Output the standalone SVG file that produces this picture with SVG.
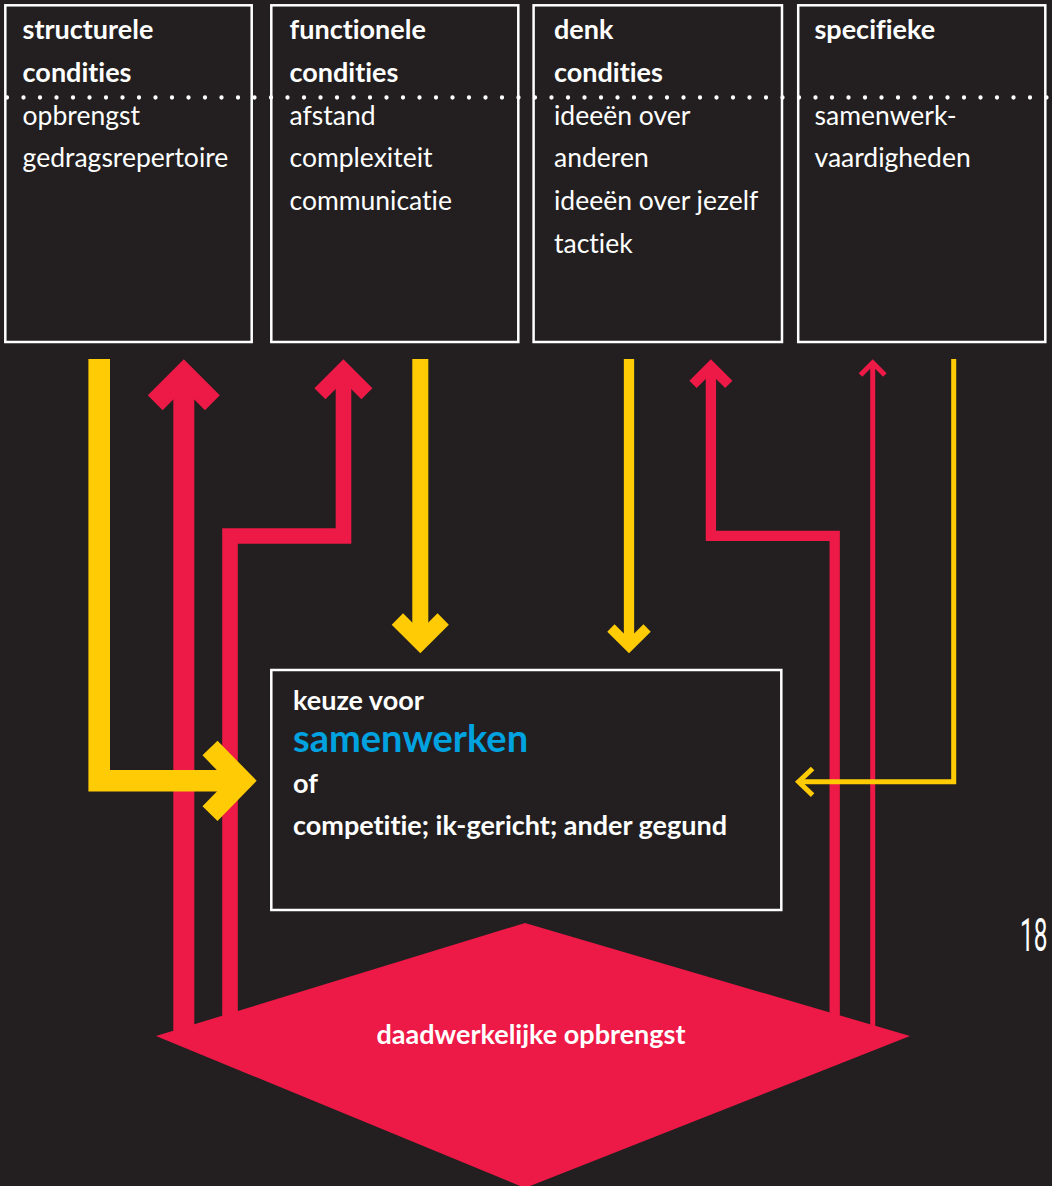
<svg xmlns="http://www.w3.org/2000/svg" width="1052" height="1186" viewBox="0 0 1052 1186">
  <style>
    .bg { fill: #231f20; }
    .box { fill: #231f20; stroke: #ffffff; stroke-width: 2.5; }
    .t { font-family: Lato, "Open Sans", sans-serif; fill: #ffffff; font-variant-ligatures: none; }
    .b { font-weight: 700; font-size: 27px; }
    .r { font-weight: 400; font-size: 26.5px; }
    .blue { fill: #00a3e0; font-size: 38px; }
    .dots { stroke: #ffffff; stroke-width: 4.3; stroke-linecap: round; stroke-dasharray: 0 16.5; fill: none; }
    .y { stroke: #ffcb05; fill: none; stroke-linejoin: miter; stroke-linecap: butt; }
    .rd { stroke: #ed1946; fill: none; stroke-linejoin: miter; stroke-linecap: butt; }
    .page { font-family: Roboto, "DejaVu Sans", sans-serif; font-weight: 400; font-size: 47px; fill: #ffffff; }
  </style>

  <rect class="bg" x="0" y="0" width="1052" height="1186"/>

  <!-- condition boxes -->
  <g id="structurele">
    <rect class="box" x="5.3" y="5.3" width="246.4" height="336.7"/>
    <text class="t b" x="22.6" y="39.3">structurele</text>
    <text class="t b" x="22.6" y="81.7">condities</text>
    <text class="t r" x="22.6" y="125">opbrengst</text>
    <text class="t r" x="22.6" y="167">gedragsrepertoire</text>
  </g>
  <g id="functionele">
    <rect class="box" x="271.3" y="5.3" width="247" height="336.7"/>
    <text class="t b" x="289.5" y="39.3">functionele</text>
    <text class="t b" x="289.5" y="81.7">condities</text>
    <text class="t r" x="289.5" y="125">afstand</text>
    <text class="t r" x="289.5" y="167">complexiteit</text>
    <text class="t r" x="289.5" y="210">communicatie</text>
  </g>
  <g id="denk">
    <rect class="box" x="533.6" y="5.3" width="248.4" height="336.7"/>
    <text class="t b" x="554" y="39.3">denk</text>
    <text class="t b" x="554" y="81.7">condities</text>
    <text class="t r" x="554" y="125">ideeën over</text>
    <text class="t r" x="554" y="167">anderen</text>
    <text class="t r" x="554" y="210">ideeën over jezelf</text>
    <text class="t r" x="554" y="253">tactiek</text>
  </g>
  <g id="specifieke">
    <rect class="box" x="798.2" y="5.3" width="247.1" height="336.7"/>
    <text class="t b" x="814.5" y="39.3">specifieke</text>
    <text class="t r" x="814.5" y="125">samenwerk-</text>
    <text class="t r" x="814.5" y="167">vaardigheden</text>
  </g>

  <!-- dotted divider running through all four boxes -->
  <line class="dots" x1="7" y1="97.5" x2="1047" y2="97.5"/>

  <!-- connectors: red feedback lines underneath, yellow influence lines on top -->
  <g id="connectors">
    <path class="rd" stroke-width="21" d="M183.8 1040 V380"/>
    <polyline class="rd" stroke-width="21" points="155.2,402.7 183.8,374.15 212.4,402.7"/>
    <path class="rd" stroke-width="15.6" d="M230 1040 V536 H343.5 V375"/>
    <polyline class="rd" stroke-width="15.6" points="319.9,393.8 343.4,370.3 366.9,393.8"/>
    <path class="rd" stroke-width="10.3" d="M834.7 1040 V535.8 H710.9 V370"/>
    <polyline class="rd" stroke-width="10.3" points="693,384.4 710.9,366.6 728.8,384.4"/>
    <path class="rd" stroke-width="5" d="M872.7 1040 V364"/>
    <polyline class="rd" stroke-width="5" points="860.5,375 872.7,362.8 884.9,375"/>

    <path class="y" stroke-width="21.6" d="M99.2 359 V780.8 H235"/>
    <polyline class="y" stroke-width="21" points="210,748 242,780.8 210,813.6"/>
    <path class="y" stroke-width="16" d="M420.3 359 V637"/>
    <polyline class="y" stroke-width="16" points="397.4,619 420.3,642 443.2,619"/>
    <path class="y" stroke-width="10.3" d="M629 359 V643"/>
    <polyline class="y" stroke-width="10.3" points="610.9,628 629,646 647.1,628"/>
    <path class="y" stroke-width="5" d="M953.7 359 V781.8 H800"/>
    <polyline class="y" stroke-width="5" points="812.6,768.5 798.6,781.8 812.6,795.1"/>
  </g>

  <!-- central choice box -->
  <g id="keuze">
    <rect class="box" x="271.3" y="670" width="510" height="240"/>
    <text class="t b" x="293" y="710">keuze voor</text>
    <text class="t b blue" x="293" y="752">samenwerken</text>
    <text class="t b" x="293" y="793">of</text>
    <text class="t b" x="293" y="835">competitie; ik-gericht; ander gegund</text>
  </g>

  <!-- outcome diamond -->
  <g id="opbrengst">
    <polygon fill="#ed1946" points="156,1036 525,923 910,1036 525,1188"/>
    <text class="t b" x="531" y="1044" text-anchor="middle">daadwerkelijke opbrengst</text>
  </g>

  <!-- page number at the trimmed edge -->
  <text class="page" transform="translate(1020 950.5) scale(0.52 1)">18</text>
</svg>
